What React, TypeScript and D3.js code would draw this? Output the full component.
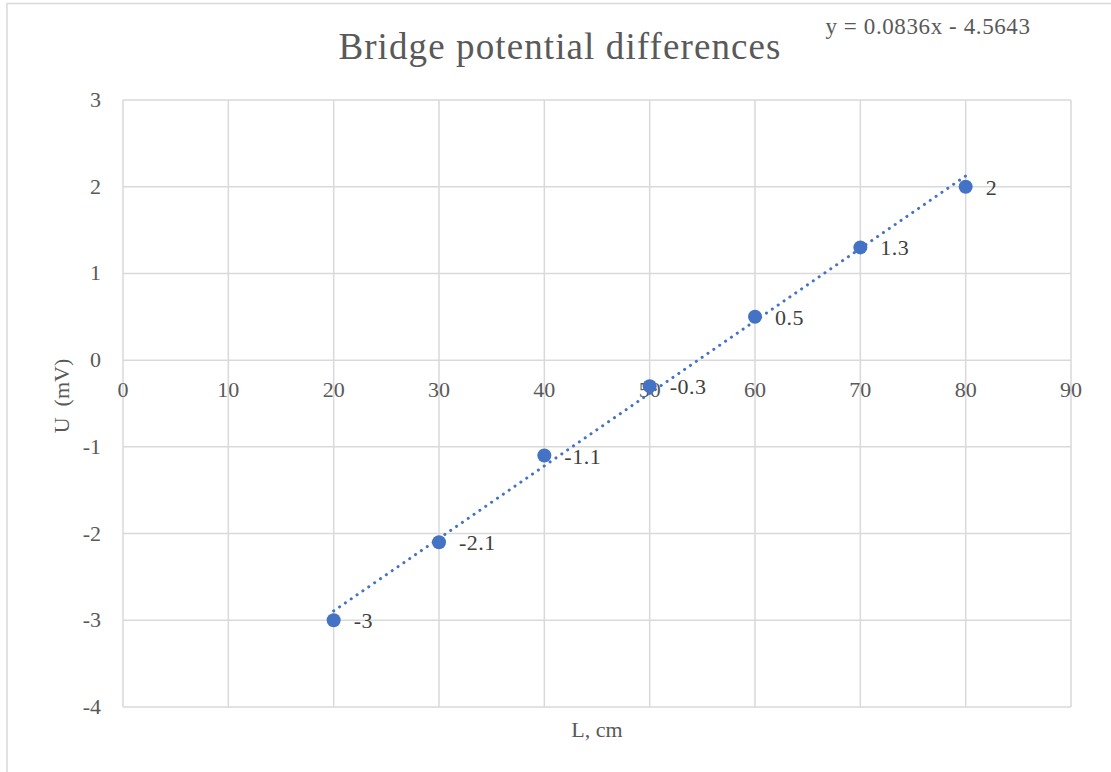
import React, { useEffect, useRef } from "react";
import * as d3 from "d3";

// measured values
const lengths = [20, 30, 40, 50, 60, 70, 80];
const voltages = [-3, -2.1, -1.1, -0.3, 0.5, 1.3, 2];
const xTicks = [0, 10, 20, 30, 40, 50, 60, 70, 80, 90];
const yTicks = [3, 2, 1, 0, -1, -2, -3, -4];
const slope = 0.0836;
const intercept = -4.5643;

const FONT = "'Liberation Serif', serif";
const TEXT = "#595959";
const GRID = "#d9d9d9";
const BLUE = "#4472C4";

export default function App() {
  const ref = useRef<SVGSVGElement | null>(null);

  useEffect(() => {
    const svg = d3.select(ref.current);
    svg.selectAll("*").remove();

    const x = d3.scaleLinear().domain([0, 90]).range([123, 1071]);
    const y = d3.scaleLinear().domain([-4, 3]).range([707, 100]);

    // chart frame
    svg.append("rect")
      .attr("x", 7).attr("y", 3.5).attr("width", 1200).attr("height", 900)
      .attr("fill", "#fff").attr("stroke", GRID).attr("stroke-width", 1.5);

    // grid
    svg.append("g").selectAll("line").data(xTicks).enter().append("line")
      .attr("x1", d => x(d)).attr("x2", d => x(d))
      .attr("y1", y(3)).attr("y2", y(-4))
      .attr("stroke", GRID).attr("stroke-width", 1.5);
    svg.append("g").selectAll("line").data(yTicks).enter().append("line")
      .attr("x1", x(0)).attr("x2", x(90))
      .attr("y1", d => y(d)).attr("y2", d => y(d))
      .attr("stroke", GRID).attr("stroke-width", 1.5);

    // y tick labels
    svg.append("g").selectAll("text").data(yTicks).enter().append("text")
      .attr("x", 101).attr("y", d => y(d) + 7)
      .attr("text-anchor", "end")
      .attr("font-family", FONT).attr("font-size", 22).attr("fill", TEXT)
      .text(d => d);

    // x tick labels (along the zero line)
    svg.append("g").selectAll("text").data(xTicks).enter().append("text")
      .attr("x", d => x(d)).attr("y", y(0) + 37)
      .attr("text-anchor", "middle")
      .attr("font-family", FONT).attr("font-size", 22).attr("fill", TEXT)
      .text(d => d);

    // trendline
    const xs = d3.extent(lengths) as [number, number];
    svg.append("line")
      .attr("x1", x(xs[0])).attr("y1", y(slope * xs[0] + intercept))
      .attr("x2", x(xs[1])).attr("y2", y(slope * xs[1] + intercept))
      .attr("stroke", BLUE).attr("stroke-width", 3)
      .attr("stroke-dasharray", "0.1 7").attr("stroke-linecap", "round");

    const pts = lengths.map((l, i) => ({ l, v: voltages[i] }));

    svg.append("g").selectAll("circle").data(pts).enter().append("circle")
      .attr("cx", d => x(d.l)).attr("cy", d => y(d.v)).attr("r", 7)
      .attr("fill", BLUE);

    svg.append("g").selectAll("text").data(pts).enter().append("text")
      .attr("x", d => x(d.l) + 20).attr("y", d => y(d.v) + 8)
      .attr("font-family", FONT).attr("font-size", 22).attr("fill", "#404040")
      .attr("letter-spacing", 0.5)
      .text(d => d.v);

    // title and equation
    svg.append("text")
      .attr("x", 560).attr("y", 59).attr("text-anchor", "middle")
      .attr("font-family", FONT).attr("font-size", 37).attr("fill", TEXT)
      .attr("letter-spacing", 1.1)
      .text("Bridge potential differences");
    svg.append("text")
      .attr("x", 928).attr("y", 34).attr("text-anchor", "middle")
      .attr("font-family", FONT).attr("font-size", 23).attr("fill", TEXT)
      .attr("letter-spacing", 0.6)
      .text(`y = ${slope}x - ${-intercept}`);

    // axis titles
    svg.append("text")
      .attr("x", 597).attr("y", 737).attr("text-anchor", "middle")
      .attr("font-family", FONT).attr("font-size", 22).attr("fill", TEXT)
      .text("L, cm");
    svg.append("text")
      .attr("transform", "translate(69,396) rotate(-90)")
      .attr("text-anchor", "middle")
      .attr("font-family", FONT).attr("font-size", 22).attr("fill", TEXT)
      .attr("xml:space", "preserve")
      .text("U  (mV)");
  }, []);

  return (
    <svg ref={ref} width={1111} height={772}
      style={{ position: "absolute", left: 0, top: 0, background: "#fff" }} />
  );
}
